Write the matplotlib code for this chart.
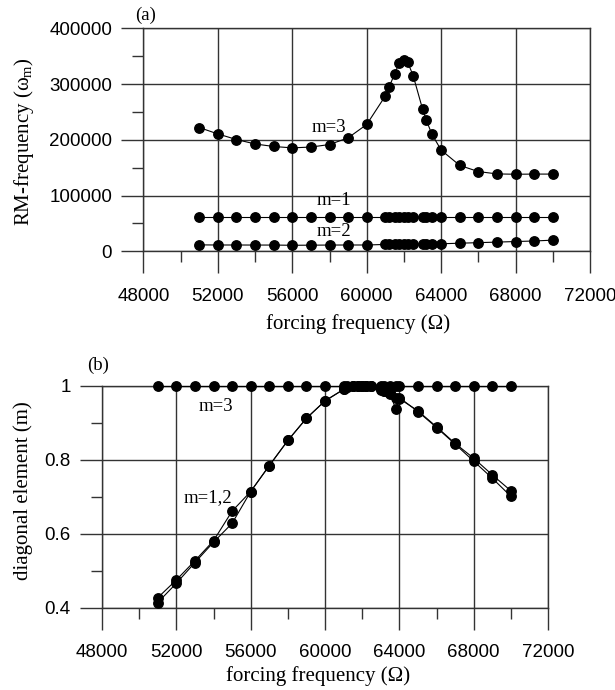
import matplotlib
matplotlib.use("Agg")
import matplotlib.pyplot as plt
from matplotlib.ticker import MultipleLocator, FuncFormatter

# ---------------- data ----------------
freq_a = [51000, 52000, 53000, 54000, 55000, 56000, 57000, 58000, 59000, 60000,
          61000, 61200, 61500, 61750, 62000, 62200, 62500, 63000, 63200, 63500,
          64000, 65000, 66000, 67000, 68000, 69000, 70000]
rm_m3 = [222000, 210500, 200500, 192500, 188000, 185500, 187000, 191500, 203500, 227500,
         278700, 294500, 318300, 338500, 344000, 339300, 314500, 255200, 235300, 210200,
         181500, 154000, 143000, 138800, 138200, 138500, 138500]
rm_m1 = [61000] * len(freq_a)
rm_m2 = [11500, 11300, 11300, 11200, 11200, 10800, 11000, 11200, 11300, 11300,
         12300, 12300, 12300, 12300, 12300, 12300, 12300, 12600, 12600, 12600,
         13500, 14500, 15500, 16500, 17500, 18500, 20000]

freq_b = [51000, 52000, 53000, 54000, 55000, 56000, 57000, 58000, 59000, 60000,
          61000, 61200, 61500, 61750, 62000, 62200, 62500, 63000, 63200, 63500, 63800,
          64000, 65000, 66000, 67000, 68000, 69000, 70000]
diag_m3 = [1.0] * len(freq_b)
diag_m1 = [0.427, 0.475, 0.527, 0.581, 0.661, 0.714, 0.784, 0.852, 0.912, 0.959,
           0.990, 0.996, 0.999, 1.000, 1.000, 1.000, 0.999, 0.991, 0.987, 0.982, 0.936,
           0.965, 0.932, 0.889, 0.844, 0.804, 0.759, 0.716]
diag_m2 = [0.414, 0.466, 0.522, 0.577, 0.628, 0.714, 0.784, 0.852, 0.912, 0.959,
           0.990, 0.996, 0.999, 1.000, 1.000, 1.000, 0.999, 0.989, 0.985, 0.978, 0.966,
           0.968, 0.930, 0.887, 0.842, 0.796, 0.750, 0.701]

x_ticks = [48000, 52000, 56000, 60000, 64000, 68000, 72000]

# ---------------- style ----------------
plt.rcParams['mathtext.fontset'] = 'custom'
plt.rcParams['mathtext.rm'] = 'Liberation Serif'
plt.rcParams['mathtext.it'] = 'Liberation Serif:italic'

GRID = '#333333'
SERIF = 'Liberation Serif'
SANS = 'Liberation Sans'
TICK_FS = 13.5
LAB_FS = 15
ANN_FS = 13.5

fig = plt.figure(figsize=(6.15, 6.9), dpi=100)
ax1 = fig.add_axes([0.2332, 0.6358, 0.7262, 0.3232])
ax2 = fig.add_axes([0.1659, 0.1193, 0.7252, 0.3217])


def style_axes(ax):
    ax.set_xlim(48000, 72000)
    ax.set_xticks(x_ticks)
    ax.xaxis.set_minor_locator(MultipleLocator(2000))
    ax.grid(True, which='major', color=GRID, linewidth=1.0)
    for sp in ax.spines.values():
        sp.set_color(GRID)
        sp.set_linewidth(1.0)
    ax.tick_params(which='major', direction='out', length=15.5, width=1.0,
                   color=GRID, labelsize=TICK_FS)
    ax.tick_params(which='minor', direction='out', length=8, width=1.0, color=GRID)
    ax.tick_params(axis='x', which='major', pad=11)
    ax.tick_params(axis='y', which='major', pad=7)
    for lab in ax.get_xticklabels() + ax.get_yticklabels():
        lab.set_fontfamily(SANS)
    ax.set_axisbelow(True)


line_kw = dict(color='black', linewidth=0.8, marker='o', markersize=6.8,
               markerfacecolor='black', markeredgecolor='black', clip_on=False, zorder=3)

# ---- panel (a) ----
ax1.plot(freq_a, rm_m3, **line_kw)
ax1.plot(freq_a, rm_m1, **line_kw)
ax1.plot(freq_a, rm_m2, **line_kw)
ax1.set_ylim(0, 400000)
ax1.set_yticks([0, 100000, 200000, 300000, 400000])
ax1.yaxis.set_minor_locator(MultipleLocator(50000))
style_axes(ax1)
ax1.text(57950, 222000, 'm=3', family=SERIF, fontsize=ANN_FS, ha='center', va='center')
ax1.text(58250, 92000, 'm=1', family=SERIF, fontsize=ANN_FS, ha='center', va='center')
ax1.text(58250, 35000, 'm=2', family=SERIF, fontsize=ANN_FS, ha='center', va='center')

# ---- panel (b) ----
ax2.plot(freq_b, diag_m3, **line_kw)
ax2.plot(freq_b, diag_m1, **line_kw)
ax2.plot(freq_b, diag_m2, **line_kw)
ax2.set_ylim(0.4, 1.0)
ax2.set_yticks([0.4, 0.6, 0.8, 1.0])
ax2.yaxis.set_minor_locator(MultipleLocator(0.1))
ax2.yaxis.set_major_formatter(FuncFormatter(lambda v, p: f'{v:g}'))
style_axes(ax2)
ax2.text(54150, 0.945, 'm=3', family=SERIF, fontsize=ANN_FS, ha='center', va='center')
ax2.text(53700, 0.697, 'm=1,2', family=SERIF, fontsize=ANN_FS, ha='center', va='center')

# ---- labels ----
fig.text(358 / 615, 1 - 324 / 690, 'forcing frequency (Ω)', family=SERIF,
         fontsize=LAB_FS, ha='center', va='center')
fig.text(318 / 615, 1 - 676 / 690, 'forcing frequency (Ω)', family=SERIF,
         fontsize=LAB_FS, ha='center', va='center')
fig.text(24 / 615, 1 - 142 / 690, 'RM-frequency (ω$_\\mathrm{m}$)', family=SERIF,
         fontsize=LAB_FS, ha='center', va='center', rotation=90)
fig.text(23 / 615, 1 - 491 / 690, 'diagonal element (m)', family=SERIF,
         fontsize=LAB_FS, ha='center', va='center', rotation=90)
fig.text(146 / 615, 1 - 15 / 690, '(a)', family=SERIF, fontsize=13.5,
         ha='center', va='center')
fig.text(98 / 615, 1 - 365 / 690, '(b)', family=SERIF, fontsize=13.5,
         ha='center', va='center')

fig.savefig('out.png', dpi=100)
